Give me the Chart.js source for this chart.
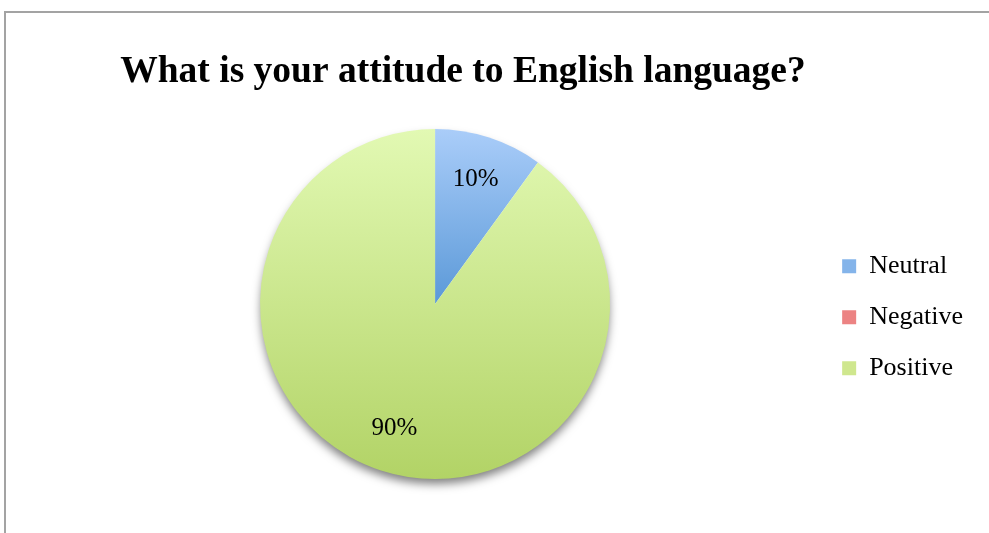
<!DOCTYPE html>
<html>
<head>
    <title>Attitude to English</title>
    <meta charset="utf-8">
    <script src="https://cdn.jsdelivr.net/npm/chart.js"></script>
    <style>
        body { margin: 0; background: #fff; overflow: hidden; }
        #frame { position: absolute; left: 4px; top: 11px; width: 1100px; height: 700px;
                 border: 2px solid #a3a3a3; }
        #myChart { position: absolute; left: 0; top: 0; }
    </style>
</head>
<body>
    <div id="frame"></div>
    <canvas id="myChart" width="989" height="533"></canvas>
    <script>
        var title = 'What is your attitude to English language?';
        var labels = ['Neutral', 'Negative', 'Positive'];
        var values = [10, 0, 90];

        // gradient ends for each slice (top, bottom) and flat colours for the legend
        var topColors = ['#aacdf9', '#f7a7a7', '#e2f9b3'];
        var bottomColors = ['#5b99d8', '#dc5c5c', '#b2d366'];
        var legendColors = ['#84b4ea', '#ec8383', '#cfe78e'];

        function sliceFill(ctx) {
            var chart = ctx.chart;
            var a = chart.chartArea;
            var i = ctx.dataIndex;
            if (!a) return legendColors[i];
            var cy = (a.top + a.bottom) / 2;
            var r = Math.min(a.right - a.left, a.bottom - a.top) / 2;
            // neutral only covers the upper half, positive the whole disc
            var y2 = (i == 0) ? cy : cy + r;
            var g = chart.ctx.createLinearGradient(0, cy - r, 0, y2);
            g.addColorStop(0, topColors[i]);
            g.addColorStop(1, bottomColors[i]);
            return g;
        }

        var titlePlugin = {
            id: 'bigTitle',
            afterDraw: function(chart) {
                var c = chart.ctx;
                c.save();
                c.font = 'bold 37.5px "Liberation Serif", "Times New Roman", serif';
                c.fillStyle = '#000';
                c.textAlign = 'center';
                c.textBaseline = 'alphabetic';
                c.fillText(title, 463, 82);
                c.restore();
            }
        };

        var shadowPlugin = {
            id: 'pieShadow',
            beforeDatasetsDraw: function(chart) {
                var arc = chart.getDatasetMeta(0).data[0];
                if (!arc) return;
                var p = arc.getProps(['x', 'y', 'outerRadius'], true);
                var c = chart.ctx;
                c.save();
                c.shadowColor = 'rgba(0,0,0,0.5)';
                c.shadowBlur = 10;
                c.shadowOffsetY = 6;
                c.fillStyle = '#ffffff';
                c.beginPath();
                c.arc(p.x, p.y, p.outerRadius - 1, 0, Math.PI * 2);
                c.fill();
                c.restore();
            }
        };

        var valueLabels = {
            id: 'valueLabels',
            afterDatasetsDraw: function(chart) {
                var c = chart.ctx;
                var meta = chart.getDatasetMeta(0);
                c.save();
                c.font = '25px "Liberation Serif", "Times New Roman", serif';
                c.fillStyle = '#000';
                c.textAlign = 'center';
                c.textBaseline = 'middle';
                meta.data.forEach(function(arc, i) {
                    if (!values[i]) return;
                    var p = arc.getProps(['x', 'y', 'startAngle', 'endAngle', 'outerRadius'], true);
                    var mid = (p.startAngle + p.endAngle) / 2;
                    var r = p.outerRadius * 0.75;
                    c.fillText(values[i] + '%', p.x + Math.cos(mid) * r, p.y + Math.sin(mid) * r);
                });
                c.restore();
            }
        };

        var myChart = new Chart(document.getElementById('myChart'), {
            type: 'pie',
            data: {
                labels: labels,
                datasets: [{
                    data: values,
                    backgroundColor: sliceFill,
                    borderWidth: 0
                }]
            },
            options: {
                responsive: false,
                animation: false,
                layout: { padding: { left: 53, right: 16, top: 129, bottom: 54 } },
                plugins: {
                    tooltip: { enabled: false },
                    legend: {
                        position: 'right',
                        title: { display: true, text: ' ', padding: { top: 6, bottom: 6 } },
                        labels: {
                            color: '#000',
                            font: { family: '"Liberation Serif", "Times New Roman", serif', size: 26 },
                            boxWidth: 14,
                            boxHeight: 14,
                            padding: 25,
                            generateLabels: function(chart) {
                                return labels.map(function(l, i) {
                                    return { text: l, fillStyle: legendColors[i], strokeStyle: legendColors[i],
                                             fontColor: '#000', lineWidth: 0, index: i, hidden: false };
                                });
                            }
                        }
                    }
                }
            },
            plugins: [shadowPlugin, valueLabels, titlePlugin]
        });
    </script>
</body>
</html>
